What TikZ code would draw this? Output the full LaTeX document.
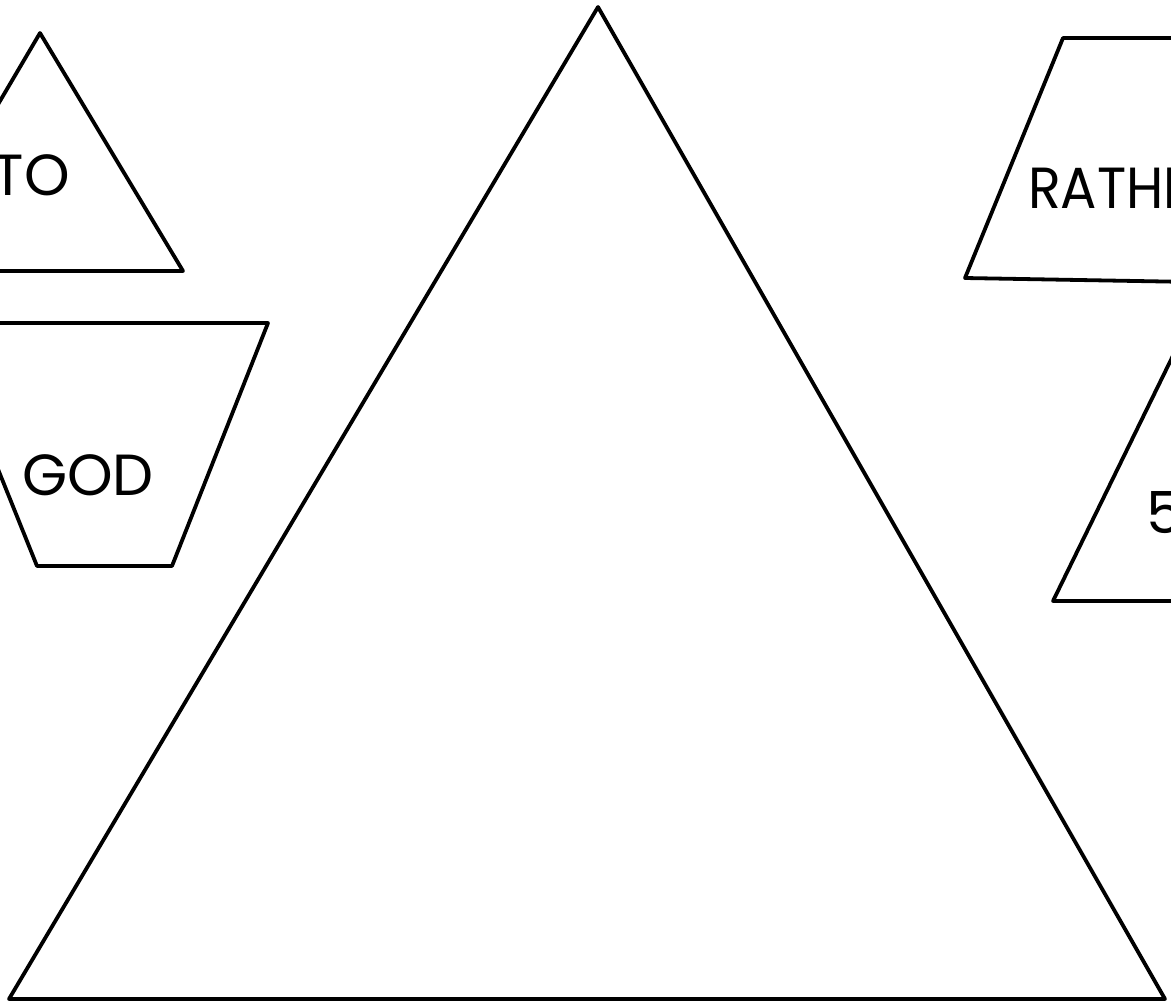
\documentclass[tikz,border=0pt]{standalone}
\usepackage{fontspec}
\setmainfont{Poppins}
\begin{document}
\begin{tikzpicture}[x=1pt,y=-1pt,
  shape line/.style={line width=3.8pt, line join=round, line cap=round},
  lbl/.style={inner sep=0pt, font=\fontsize{58}{60}\selectfont}]
\useasboundingbox (0,0) rectangle (1171,1005);
\clip (0,0) rectangle (1171,1005);
% big triangle
\coordinate (bA) at (598,7);
\coordinate (bL) at (9,999);
\coordinate (bR) at (1165,999);
\draw[shape line] (bA) -- (bR) -- (bL) -- cycle;
% TO triangle
\coordinate (tA) at (40,33);
\coordinate (tR) at (183,271);
\coordinate (tL) at (-100,271);
\draw[shape line] (tA) -- (tR) -- (tL) -- cycle;
\node[lbl, anchor=base east] (to) at (70,195) {TO};
% GOD trapezoid
\draw[shape line] (-20,323) -- (268,323) -- (172,566) -- (37,566) -- (-50,350);
\node[lbl, anchor=base west] (god) at (22,495) {GOD};
% RATHER trapezoid
\draw[shape line] (1250,38) -- (1063,38) -- (965,278) -- (1250,283);
\node[lbl, anchor=base west, xscale=0.93] (rather) at (1028,208) {RATHER};
% 5 triangle
\draw[shape line] (1210,280) -- (1053,601) -- (1250,601);
\node[lbl, anchor=base west] (five) at (1146,533) {5};
\end{tikzpicture}
\end{document}
